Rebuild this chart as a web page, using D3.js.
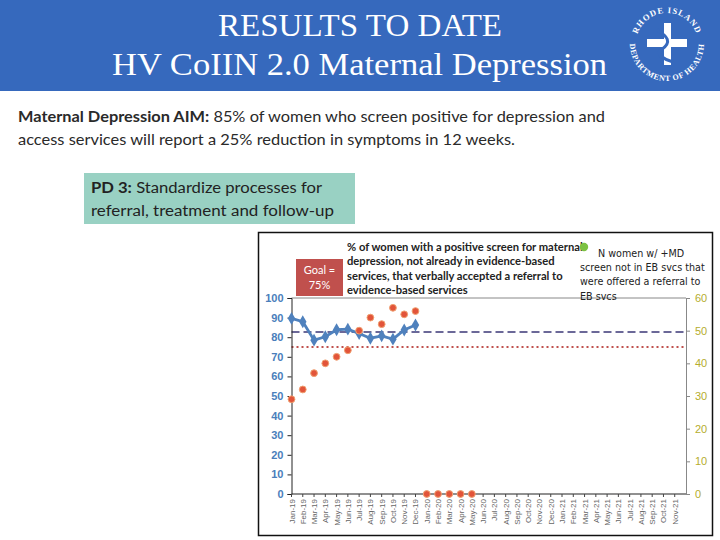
<!DOCTYPE html>
<html><head><meta charset="utf-8">
<script src="https://cdn.jsdelivr.net/npm/d3@7"></script>
<style>
html,body{margin:0;padding:0;background:#fff;}
svg{display:block;}
</style></head>
<body>
<svg id="c" width="720" height="540"></svg>
<script>
// ---- data ----
const months = ["Jan-19","Feb-19","Mar-19","Apr-19","May-19","Jun-19","Jul-19","Aug-19","Sep-19","Oct-19","Nov-19","Dec-19",
"Jan-20","Feb-20","Mar-20","Apr-20","May-20","Jun-20","Jul-20","Aug-20","Sep-20","Oct-20","Nov-20","Dec-20",
"Jan-21","Feb-21","Mar-21","Apr-21","May-21","Jun-21","Jul-21","Aug-21","Sep-21","Oct-21","Nov-21"];
const pctAccepted = [89.6, 87.9, 78.5, 80.2, 83.8, 84.1, 81.9, 79.5, 80.7, 79.0, 83.7, 86.2];
const nWomenOffered = [29, 32, 37, 40, 42, 44, 50, 54, 52, 57, 55, 56, 0, 0, 0, 0, 0];
const goalValue = 75;
const centerLine = 82.7;
const leftTicks = [0,10,20,30,40,50,60,70,80,90,100];
const rightTicks = [0,10,20,30,40,50,60];

const svg = d3.select("#c");

// ---- header ----
svg.append("rect").attr("x",0).attr("y",0).attr("width",720).attr("height",91).attr("fill","#3669BD");
svg.append("text").attr("x",218).attr("y",36).attr("fill","#fff").attr("textLength",284).attr("lengthAdjust","spacingAndGlyphs")
  .attr("font-family","Liberation Serif, serif").attr("font-size",32).text("RESULTS TO DATE");
svg.append("text").attr("x",112).attr("y",75).attr("fill","#fff").attr("textLength",495).attr("lengthAdjust","spacingAndGlyphs")
  .attr("font-family","Liberation Serif, serif").attr("font-size",32).text("HV CoIIN 2.0 Maternal Depression");

// logo
const lg = svg.append("g").attr("transform","translate(667,44)");
const defs = svg.append("defs");
defs.append("path").attr("id","arcTop").attr("d","M -29,-11 A 31,31 0 0 1 29,-11");
defs.append("path").attr("id","arcBot").attr("d","M -35,-12 A 37,37 0 1 0 35,-12");
lg.append("text").attr("fill","#fff").attr("font-family","Liberation Serif, serif").attr("font-size",8.5).attr("font-weight","bold")
  .append("textPath").attr("href","#arcTop").attr("startOffset","50%").attr("text-anchor","middle").attr("letter-spacing",1).text("RHODE ISLAND");
lg.append("text").attr("fill","#fff").attr("font-family","Liberation Serif, serif").attr("font-size",8).attr("font-weight","bold")
  .append("textPath").attr("href","#arcBot").attr("startOffset","50%").attr("text-anchor","middle").attr("letter-spacing",0.6).text("DEPARTMENT OF HEALTH");
lg.append("rect").attr("x",-3).attr("y",-21).attr("width",7).attr("height",42).attr("fill","#fff");
lg.append("rect").attr("x",-20).attr("y",-5).attr("width",40).attr("height",8).attr("fill","#fff");
lg.append("path").attr("d","M -10,-14 C 0,-8 6,-2 -6,6 C -12,10 -2,16 6,18").attr("fill","none").attr("stroke","#3669BD").attr("stroke-width",3);

// ---- AIM text ----
const aim = svg.append("g").attr("font-family","Lato, 'Open Sans', sans-serif").attr("font-size",15).attr("fill","#2a2a2a");
const t1 = aim.append("text").attr("x",18).attr("y",122).attr("textLength",587).attr("lengthAdjust","spacingAndGlyphs");
t1.append("tspan").attr("font-weight","bold").text("Maternal Depression AIM:");
t1.append("tspan").text(" 85% of women who screen positive for depression and");
aim.append("text").attr("x",18).attr("y",145).attr("textLength",497).attr("lengthAdjust","spacingAndGlyphs")
  .text("access services will report a 25% reduction in symptoms in 12 weeks.");

// PD3 box
svg.append("rect").attr("x",84).attr("y",173).attr("width",271).attr("height",51).attr("fill","#99D1C3");
const pd = svg.append("g").attr("font-family","Lato, 'Open Sans', sans-serif").attr("font-size",15.5).attr("fill","#222");
const p1 = pd.append("text").attr("x",91).attr("y",193).attr("textLength",231).attr("lengthAdjust","spacingAndGlyphs");
p1.append("tspan").attr("font-weight","bold").text("PD 3:");
p1.append("tspan").text(" Standardize processes for");
pd.append("text").attr("x",91).attr("y",216).attr("textLength",243).attr("lengthAdjust","spacingAndGlyphs").text("referral, treatment and follow-up");

// ---- chart ----
svg.append("rect").attr("x",258.5).attr("y",232.5).attr("width",454).attr("height",303).attr("fill","#fff").attr("stroke","#111").attr("stroke-width",1.5);

const x = d3.scaleLinear().domain([0, months.length]).range([291.5, 686]);
const yL = d3.scaleLinear().domain([0,100]).range([494, 298]);
const yR = d3.scaleLinear().domain([0,60]).range([494, 298]);

// plot frame top
svg.append("line").attr("x1",291.5).attr("x2",686).attr("y1",298).attr("y2",298).attr("stroke","#888").attr("stroke-width",1);

// goal & center lines
svg.append("line").attr("x1",x(0)).attr("x2",x(months.length)).attr("y1",yL(goalValue)).attr("y2",yL(goalValue))
  .attr("stroke","#C0504D").attr("stroke-width",1.8).attr("stroke-dasharray","2,3");
svg.append("line").attr("x1",x(0)).attr("x2",x(months.length)).attr("y1",yL(centerLine)).attr("y2",yL(centerLine))
  .attr("stroke","#6B6898").attr("stroke-width",2).attr("stroke-dasharray","8,4");

// left axis
const la = svg.append("g").attr("transform","translate(291.5,0)")
  .call(d3.axisLeft(yL).tickValues(leftTicks).tickSize(4).tickPadding(4));
la.select(".domain").attr("stroke","#222");
la.selectAll(".tick line").attr("stroke","#222");
la.selectAll(".tick text").attr("fill","#4A7EBB").attr("font-family","Liberation Sans, Arial, sans-serif").attr("font-size",11).attr("font-weight","bold");

// right axis
const ra = svg.append("g").attr("transform","translate(686,0)")
  .call(d3.axisRight(yR).tickValues(rightTicks).tickSize(4).tickPadding(5));
ra.select(".domain").attr("stroke","#888");
ra.selectAll(".tick line").attr("stroke","#888");
ra.selectAll(".tick text").attr("fill","#B5AD2E").attr("font-family","Liberation Sans, Arial, sans-serif").attr("font-size",11);

// bottom axis
const xa = svg.append("g").attr("transform","translate(0,494)");
xa.append("line").attr("x1",291.5).attr("x2",686).attr("stroke","#222").attr("stroke-width",1.2);
months.forEach((m,i)=>{
  xa.append("line").attr("x1",x(i)).attr("x2",x(i)).attr("y1",0).attr("y2",3).attr("stroke","#444");
  xa.append("text").attr("transform",`translate(${x(i)+3},${5}) rotate(-90)`).attr("text-anchor","end")
    .attr("font-family","Liberation Sans, Arial, sans-serif").attr("font-size",8).attr("fill","#666").text(m);
});

// blue line
const line = d3.line().x((d,i)=>x(i)).y(d=>yL(d));
svg.append("path").datum(pctAccepted).attr("d",line).attr("fill","none").attr("stroke","#4F81BD").attr("stroke-width",2.8);
svg.append("g").selectAll("path").data(pctAccepted).join("path")
  .attr("d",d3.symbol(d3.symbolDiamond,48)())
  .attr("transform",(d,i)=>`translate(${x(i)},${yL(d)})`).attr("fill","#4F81BD");

// red dots (right axis)
svg.append("g").selectAll("circle").data(nWomenOffered).join("circle")
  .attr("cx",(d,i)=>x(i)).attr("cy",d=>yR(d)).attr("r",3.4)
  .attr("fill","#E2543A").attr("stroke","#F0A070").attr("stroke-width",1);

// legends
svg.append("rect").attr("x",296).attr("y",259).attr("width",47).attr("height",37).attr("fill","#C0504D");
svg.append("text").attr("x",319.5).attr("y",274).attr("text-anchor","middle").attr("fill","#fff")
  .attr("font-family","Lato, sans-serif").attr("font-size",11).text("Goal =");
svg.append("text").attr("x",319.5).attr("y",289).attr("text-anchor","middle").attr("fill","#fff")
  .attr("font-family","Lato, sans-serif").attr("font-size",11).text("75%");

const leg1 = ["% of women with a positive screen for maternal","depression, not already in evidence-based","services, that verbally accepted a referral to","evidence-based services"];
svg.append("g").selectAll("text").data(leg1).join("text")
  .attr("x",347).attr("y",(d,i)=>251+i*14.4).attr("font-family","Lato, sans-serif").attr("font-size",11.2).attr("font-weight","bold").attr("fill","#222").text(d=>d);

svg.append("circle").attr("cx",584).attr("cy",247).attr("r",4.2).attr("fill","#7CC142");
const leg2 = ["screen not in EB svcs that","were offered a referral to","EB svcs"];
svg.append("text").attr("x",598).attr("y",257).attr("font-family","DejaVu Sans, sans-serif").attr("font-size",9.6).attr("fill","#222").text("N women w/ +MD");
svg.append("g").selectAll("text").data(leg2).join("text")
  .attr("x",580).attr("y",(d,i)=>271+i*14.3).attr("font-family","DejaVu Sans, sans-serif").attr("font-size",9.6).attr("fill","#222").text(d=>d);
</script>
</body></html>
